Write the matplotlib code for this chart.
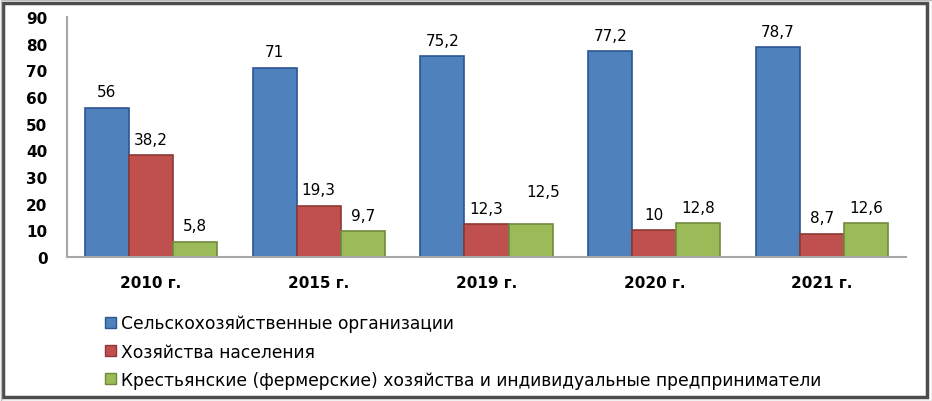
import matplotlib.pyplot as plt
import matplotlib.patches as mpatches
import numpy as np

years = ['2010 г.', '2015 г.', '2019 г.', '2020 г.', '2021 г.']
agro_orgs = [56, 71, 75.2, 77.2, 78.7]
households = [38.2, 19.3, 12.3, 10, 8.7]
farmers = [5.8, 9.7, 12.5, 12.8, 12.6]

series_names = ['Сельскохозяйственные организации',
                'Хозяйства населения',
                'Крестьянские (фермерские) хозяйства и индивидуальные предприниматели']
face_colors = ['#4F81BD', '#C0504D', '#9BBB59']
edge_colors = ['#2C5593', '#8C3836', '#71893F']

fig = plt.figure(figsize=(9.32, 4.02), dpi=100)
ax = fig.add_axes([67 / 932, 1 - 258 / 402, (906 - 67) / 932, 240 / 402])

x = np.arange(len(years))
w = 0.263
for i, (vals, fc, ec) in enumerate(zip([agro_orgs, households, farmers], face_colors, edge_colors)):
    bars = ax.bar(x + (i - 1) * w, vals, w, color=fc, edgecolor=ec, linewidth=1.2)
    for j, (b, v) in enumerate(zip(bars, vals)):
        lbl = f'{v:g}'.replace('.', ',')
        dy, dx = 6, 0
        # the 12,5 label sits higher and a bit right in the original
        if i == 2 and years[j] == '2019 г.':
            dy, dx = 18, 9
        ax.annotate(lbl, (b.get_x() + b.get_width() / 2, v), xytext=(dx, dy),
                    textcoords='offset points', ha='center', va='bottom',
                    fontsize=11, color='black')

ax.set_xlim(-0.5, len(years) - 0.5)
ax.set_ylim(0, 90)
ax.set_yticks(range(0, 91, 10))
ax.set_xticks(x)
ax.set_xticklabels(years, fontweight='bold')
ax.tick_params(axis='both', length=0, labelsize=11)
ax.tick_params(axis='x', pad=13)
ax.tick_params(axis='y', pad=14)
for lab in ax.get_yticklabels():
    lab.set_fontweight('bold')
for s in ['top', 'right']:
    ax.spines[s].set_visible(False)
for s in ['left', 'bottom']:
    ax.spines[s].set_color('#A6A6A6')
    ax.spines[s].set_linewidth(1.5)

# legend, stacked below the plot
handles = [mpatches.Patch(facecolor=fc, edgecolor=ec) for fc, ec in zip(face_colors, edge_colors)]
leg = fig.legend(handles, series_names, loc='upper left', bbox_to_anchor=(90 / 932, 1 - 300 / 402),
                 frameon=False, handlelength=0.6, handleheight=0.6, handletextpad=0.3,
                 labelspacing=0.6, prop={'size': 12.3})

# outer frame
fig.patches.append(mpatches.Rectangle((3 / 932, 4 / 402), 924 / 932, 394 / 402, transform=fig.transFigure,
                                      fill=False, edgecolor='#4D4D4D', linewidth=2.5))
fig.patches.append(mpatches.Rectangle((0.5 / 932, 0.5 / 402), 931 / 932, 401 / 402, transform=fig.transFigure,
                                      fill=False, edgecolor='#BBBBBB', linewidth=1))

fig.savefig('out.png', dpi=100)
